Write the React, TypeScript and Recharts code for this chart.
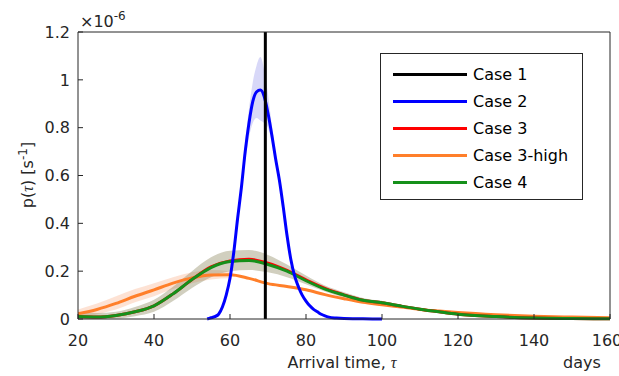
import { ComposedChart, Line, Area, XAxis, YAxis, ReferenceLine, Legend } from "recharts"

const xTicks = [20, 40, 60, 80, 100, 120, 140, 160]
const yTicks = [0, 0.2, 0.4, 0.6, 0.8, 1, 1.2]

// Case 1: single arrival time (days)
const case1Time = 69.3

// Case 2 (blue)
const blueX = [54, 55, 56, 57, 58, 59, 60, 61, 62, 63, 64, 65, 66, 67, 68, 69, 70, 71, 72, 73, 74, 75, 76, 77, 78, 79, 80, 81, 82, 83, 84, 85, 86, 88, 90, 95, 100]
const blueY = [0, 0.005, 0.01, 0.02, 0.05, 0.1, 0.17, 0.28, 0.42, 0.55, 0.7, 0.82, 0.91, 0.95, 0.957, 0.93, 0.86, 0.77, 0.67, 0.58, 0.47, 0.35, 0.25, 0.18, 0.135, 0.1, 0.075, 0.055, 0.04, 0.03, 0.02, 0.013, 0.008, 0.004, 0.002, 0.001, 0]
const blueBandX = [62, 63, 64, 65, 66, 67, 68, 69, 70, 71, 72, 73, 74]
const blueBandLo = [0.4, 0.53, 0.66, 0.76, 0.82, 0.84, 0.83, 0.82, 0.8, 0.74, 0.65, 0.57, 0.46]
const blueBandHi = [0.44, 0.58, 0.74, 0.88, 0.99, 1.06, 1.095, 1.04, 0.94, 0.81, 0.69, 0.6, 0.48]

// Cases 3, 3-high, 4
const curveX = [20, 25, 30, 35, 40, 45, 50, 55, 60, 65, 70, 75, 80, 85, 90, 95, 100, 105, 110, 115, 120, 130, 140, 150, 160]
const redY = [0.01, 0.008, 0.015, 0.03, 0.055, 0.105, 0.165, 0.218, 0.243, 0.25, 0.233, 0.203, 0.164, 0.128, 0.101, 0.079, 0.068, 0.054, 0.041, 0.03, 0.02, 0.01, 0.004, 0.002, 0.001]
const orangeY = [0.022, 0.04, 0.065, 0.095, 0.122, 0.15, 0.172, 0.184, 0.185, 0.17, 0.148, 0.136, 0.122, 0.102, 0.085, 0.07, 0.06, 0.05, 0.04, 0.033, 0.027, 0.018, 0.012, 0.008, 0.005]
const greenY = [0.01, 0.008, 0.015, 0.03, 0.055, 0.105, 0.165, 0.215, 0.24, 0.245, 0.228, 0.2, 0.16, 0.125, 0.1, 0.078, 0.068, 0.054, 0.041, 0.03, 0.02, 0.01, 0.004, 0.002, 0.001]

const greenBandX = [20, 25, 30, 35, 40, 45, 50, 55, 60, 65, 70, 75, 80, 85, 90, 95, 100]
const greenBandLo = [0, 0, 0.002, 0.012, 0.03, 0.075, 0.13, 0.175, 0.2, 0.205, 0.195, 0.175, 0.145, 0.115, 0.09, 0.07, 0.06]
const greenBandHi = [0.03, 0.025, 0.03, 0.05, 0.08, 0.135, 0.2, 0.258, 0.285, 0.288, 0.268, 0.228, 0.182, 0.14, 0.112, 0.088, 0.076]
const orangeBandX = [20, 25, 30, 35, 40, 45, 50, 55, 60]
const orangeBandLo = [0, 0.02, 0.04, 0.07, 0.095, 0.125, 0.15, 0.165, 0.17]
const orangeBandHi = [0.04, 0.065, 0.095, 0.125, 0.15, 0.175, 0.195, 0.205, 0.2]

const legendItems = [
  { name: "Case 1", color: "#000000" },
  { name: "Case 2", color: "#0000ff" },
  { name: "Case 3", color: "#ff0000" },
  { name: "Case 3-high", color: "#ff7f2a" },
  { name: "Case 4", color: "#15901a" },
]

const toPoints = (xs: number[], ys: number[]) => xs.map((x, i) => ({ x, y: ys[i] }))
const toBand = (xs: number[], lo: number[], hi: number[]) => xs.map((x, i) => ({ x, band: [lo[i], hi[i]] }))

const axisColor = "#262626"
const font = "'DejaVu Sans', sans-serif"
const fs = 16

function LegendBox() {
  return (
    <div
      style={{
        width: 203,
        height: 147,
        boxSizing: "border-box",
        border: `1px solid ${axisColor}`,
        background: "#fff",
        padding: "7px 0 0 12px",
        fontFamily: font,
        fontSize: fs,
        color: "#000",
      }}
    >
      {legendItems.map((it) => (
        <div key={it.name} style={{ display: "flex", alignItems: "center", height: 27 }}>
          <div style={{ width: 74, height: 3, background: it.color, marginRight: 6 }} />
          <span>{it.name}</span>
        </div>
      ))}
    </div>
  )
}

export default function App() {
  return (
    <div style={{ position: "absolute", left: 0, top: 0, background: "#fff" }}>
      <ComposedChart width={619} height={376} margin={{ top: 31, right: 8, left: 0, bottom: 0 }}>
        <XAxis
          dataKey="x"
          type="number"
          domain={[20, 160]}
          ticks={xTicks}
          allowDataOverflow
          height={57}
          stroke={axisColor}
          tickSize={-5}
          tickMargin={21}
          tick={{ fill: axisColor, fontSize: fs, fontFamily: font }}
        />
        <XAxis
          xAxisId="top"
          dataKey="x"
          type="number"
          orientation="top"
          domain={[20, 160]}
          ticks={xTicks}
          height={1}
          stroke={axisColor}
          tickSize={-5}
          tick={false}
        />
        <YAxis
          type="number"
          domain={[0, 1.2]}
          ticks={yTicks}
          width={78}
          stroke={axisColor}
          tickSize={-5}
          tickMargin={13}
          tick={{ fill: axisColor, fontSize: fs, fontFamily: font }}
        />
        <YAxis
          yAxisId="right"
          orientation="right"
          type="number"
          domain={[0, 1.2]}
          ticks={yTicks}
          width={1}
          stroke={axisColor}
          tickSize={-5}
          tick={false}
        />
        <Area data={toBand(orangeBandX, orangeBandLo, orangeBandHi)} dataKey="band" type="monotone" stroke="none" fill="#f9a070" fillOpacity={0.3} isAnimationActive={false} />
        <Area data={toBand(greenBandX, greenBandLo, greenBandHi)} dataKey="band" type="monotone" stroke="none" fill="#8c8660" fillOpacity={0.4} isAnimationActive={false} />
        <Area data={toBand(blueBandX, blueBandLo, blueBandHi)} dataKey="band" type="monotone" stroke="none" fill="#a8a8f0" fillOpacity={0.45} isAnimationActive={false} />
        <Line data={toPoints(curveX, orangeY)} dataKey="y" type="monotone" stroke="#ff7f2a" strokeWidth={3} dot={false} isAnimationActive={false} />
        <Line data={toPoints(curveX, redY)} dataKey="y" type="monotone" stroke="#ff0000" strokeWidth={3} dot={false} isAnimationActive={false} />
        <Line data={toPoints(curveX, greenY)} dataKey="y" type="monotone" stroke="#15901a" strokeWidth={3} dot={false} isAnimationActive={false} />
        <Line data={toPoints(blueX, blueY)} dataKey="y" type="monotone" stroke="#0000ff" strokeWidth={3} dot={false} isAnimationActive={false} />
        <ReferenceLine x={case1Time} stroke="#000" strokeWidth={3} />
        <Legend
          content={() => <LegendBox />}
          wrapperStyle={{ left: 380, top: 53, width: 0, height: 0, overflow: "visible" }}
        />
        <text x={80} y={27} fontFamily={font} fontSize={fs} fill={axisColor}>
          ×10<tspan dy={-7} fontSize={12}>-6</tspan>
        </text>
        <text transform="rotate(-90)" x={-175} y={33} textAnchor="middle" fontFamily={font} fontSize={fs} fill={axisColor}>
          p(<tspan fontFamily="'Liberation Serif', serif" fontStyle="italic">τ</tspan>) [s<tspan dy={-6} fontSize={12}>-1</tspan><tspan dy={6}>]</tspan>
        </text>
        <text x={342} y={368} textAnchor="middle" fontFamily={font} fontSize={fs} fill={axisColor}>
          Arrival time, <tspan fontFamily="'Liberation Serif', serif" fontStyle="italic">τ</tspan>
        </text>
        <text x={563} y={368} fontFamily={font} fontSize={fs} fill={axisColor}>
          days
        </text>
      </ComposedChart>
    </div>
  )
}
